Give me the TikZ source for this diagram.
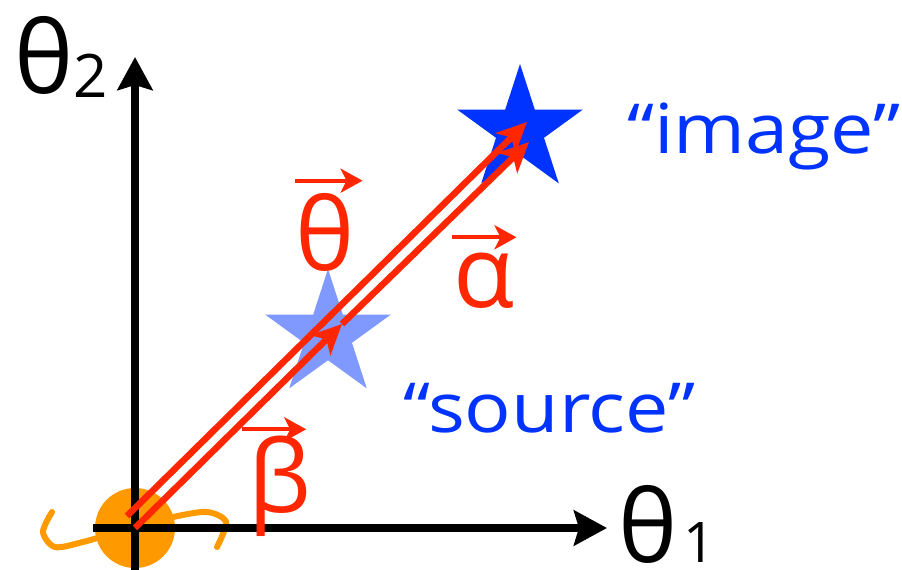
\documentclass[tikz,border=0pt]{standalone}
\usepackage{fontspec}
\setmainfont{Open Sans}
\newfontfamily\wordfont{Open Sans}[FakeStretch=1.12]
\usepackage{tikz}
\usetikzlibrary{arrows.meta, shapes.geometric, calc}

\definecolor{vecred}{RGB}{255,38,0}
\definecolor{imgblue}{RGB}{0,51,255}
\definecolor{srcblue}{RGB}{128,153,255}
\definecolor{lensorange}{RGB}{255,153,0}

\begin{document}
\begin{tikzpicture}[
        x=1pt, y=-1pt,
        axis/.style={line width=7.5pt, -{Stealth[length=33pt, width=35pt, inset=5pt]}},
        vec/.style={line width=6.5pt, vecred, -{Stealth[length=30pt, width=28pt, inset=8pt]}},
        overarr/.style={line width=4pt, vecred, -{Stealth[length=22pt, width=24pt, inset=6pt]}},
        spot/.style={star, star points=5, star point ratio=2.618, minimum size=132pt, inner sep=0pt, outer sep=0pt},
        greek/.style={font=\fontsize{100}{100}\selectfont, text=vecred, inner sep=0pt, anchor=base west},
        axlbl/.style={font=\fontsize{100}{100}\selectfont, inner sep=0pt, anchor=base west},
        word/.style={font=\wordfont\fontsize{69}{69}\selectfont, text=imgblue, inner sep=0pt, anchor=base west}
    ]
        \useasboundingbox (0,0) rectangle (902,570);

        % Lens at the origin
        \node[circle, fill=lensorange, minimum size=80pt, inner sep=0pt] (lens) at (135,528) {};
        \draw[lensorange, line width=6pt, line cap=round] plot[smooth] coordinates
            {(52,512) (43,532) (55,547) (83,542) (135,527) (173,517) (207,512) (226,522) (217,547)};

        % Axes
        \coordinate (O) at (135,528);
        \coordinate (ybot) at (135,572);
        \coordinate (ytop) at (135,57);
        \coordinate (xleft) at (93,528);
        \coordinate (xright) at (607,528);
        \draw[axis] (ybot) -- (ytop);
        \draw[axis] (xleft) -- (xright);
        \node[axlbl] (thtwo) at (14,93) {θ\raisebox{-4pt}{\fontsize{60}{60}\selectfont 2}};
        \node[axlbl] (thone) at (618,562) {θ\hspace{6pt}{\fontsize{56}{56}\selectfont 1}};

        % Source and image
        \node[spot, fill=srcblue] (srcstar) at (328,335) {};
        \node[spot, fill=imgblue] (imgstar) at (520,130) {};
        \node[word] (srcword) at (403,432) {“source”};
        \node[word] (imgword) at (627,153) {“image”};

        % Angle vectors
        \coordinate (thstart) at (127,516);
        \coordinate (thtip) at (527,122);
        \coordinate (betatip) at (342,324);
        \coordinate (alphatip) at (529,142);
        \draw[vec] (O) -- (betatip);
        \draw[vec] (betatip) -- (alphatip);
        \draw[vec] (thstart) -- (thtip);

        % Vector labels
        \node[greek] (thlbl) at (295,270) {θ};
        \draw[overarr] ([yshift=12pt]thlbl.north west) -- ([xshift=8pt, yshift=12pt]thlbl.north east);
        \node[greek] (alphalbl) at (453,307) {α};
        \draw[overarr] ([xshift=-1pt, yshift=15pt]alphalbl.north west) -- ([xshift=2pt, yshift=15pt]alphalbl.north east);
        \node[greek] (betalbl) at (248,512) {β};
        \draw[overarr] ([xshift=-6pt, yshift=6pt]betalbl.north west) -- ([xshift=-5pt, yshift=6pt]betalbl.north east);
    \end{tikzpicture}
\end{document}
